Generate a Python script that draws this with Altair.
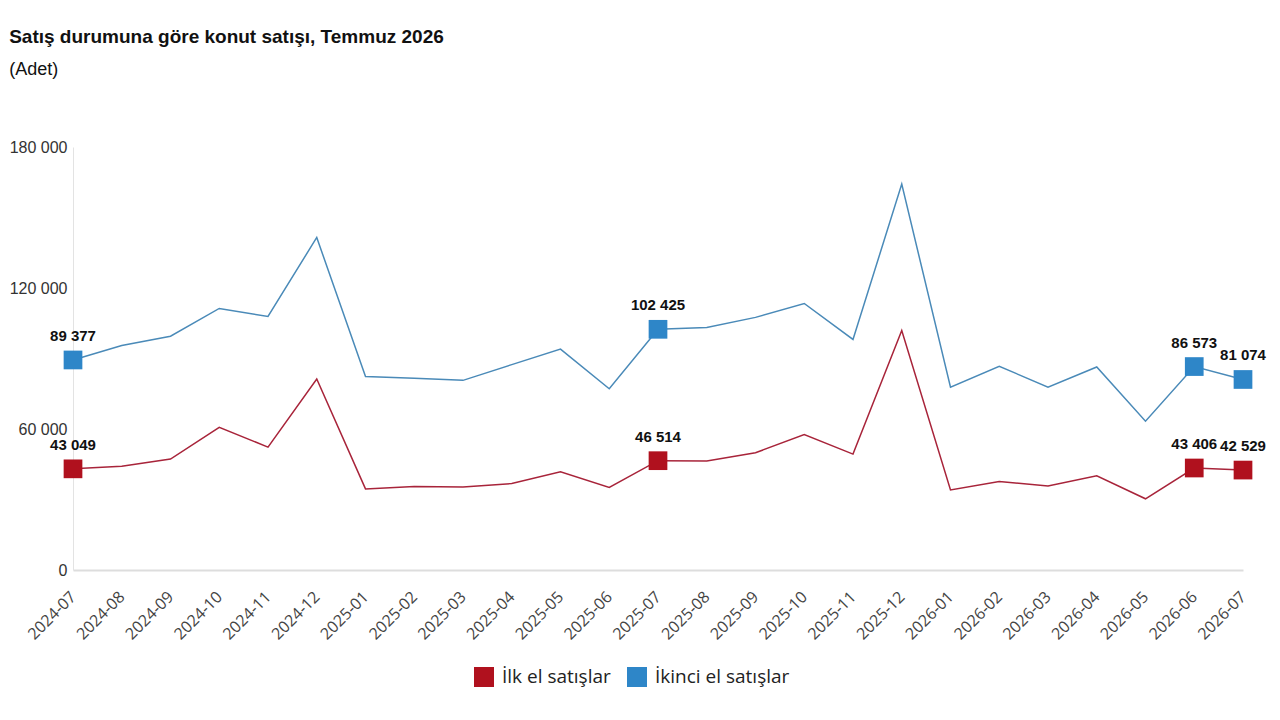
import altair as alt
import pandas as pd

months = ["2024-07", "2024-08", "2024-09", "2024-10", "2024-11", "2024-12",
          "2025-01", "2025-02", "2025-03", "2025-04", "2025-05", "2025-06",
          "2025-07", "2025-08", "2025-09", "2025-10", "2025-11", "2025-12",
          "2026-01", "2026-02", "2026-03", "2026-04", "2026-05", "2026-06",
          "2026-07"]
ilk_el = [43049, 44100, 47200, 60700, 52300, 81300, 34500, 35500, 35300, 36800,
          41800, 35100, 46514, 46400, 49900, 57600, 49300, 101900, 34100, 37700,
          35700, 40100, 30300, 43406, 42529]
ikinci_el = [89377, 95500, 99500, 111300, 107900, 141500, 82300, 81600, 80700, 87400,
             94000, 77100, 102425, 103200, 107500, 113400, 98100, 164200, 77800, 86700,
             77800, 86400, 63300, 86573, 81074]
series_names = ["İlk el satışlar", "İkinci el satışlar"]
labeled_months = ["2024-07", "2025-07", "2026-06", "2026-07"]
y_ticks = [0, 60000, 120000, 180000]

rows = []
for name, vals in zip(series_names, [ilk_el, ikinci_el]):
    for m, v in zip(months, vals):
        rows.append({"month": m, "series": name, "value": v,
                     "label": f"{v:,}".replace(",", " ")})
df = pd.DataFrame(rows)
df_lab = df[df["month"].isin(labeled_months)]

marker_colors = ["#b0111e", "#2e86c8"]
line_colors = ["#a8243a", "#4a8ab8"]

x_enc = alt.X("month:N", sort=months, scale=alt.Scale(type="point", padding=0),
              axis=alt.Axis(title=None, labelAngle=-45, labelFont="Open Sans", labelFontSize=16,
                            labelColor="#444444", labelPadding=24, ticks=False,
                            domainColor="#dddddd", domainWidth=2, grid=False,
                            labelAlign="right", labelBaseline="middle"))
y_enc = alt.Y("value:Q", scale=alt.Scale(domain=[0, 180000], nice=False),
              axis=alt.Axis(title=None, values=y_ticks, grid=False, ticks=False,
                            domainColor="#e3e3e3", domainWidth=1,
                            labelFont="Liberation Sans", labelFontSize=16,
                            labelColor="#333333", labelPadding=6,
                            labelExpr="replace(format(datum.value, ','), ',', ' ')"))

base = alt.Chart(df)

lines = base.mark_line(strokeWidth=1.5).encode(
    x=x_enc, y=y_enc,
    stroke=alt.Stroke("series:N", scale=alt.Scale(domain=series_names, range=line_colors),
                      legend=None),
    detail="series:N",
)

points = alt.Chart(df_lab).mark_point(shape="square", filled=True, size=350,
                                      opacity=1, strokeWidth=0).encode(
    x=x_enc, y=y_enc,
    fill=alt.Fill("series:N", scale=alt.Scale(domain=series_names, range=marker_colors),
                  sort=series_names,
                  legend=alt.Legend(title=None, orient="none", direction="horizontal",
                                    legendX=401, legendY=520, symbolType="square",
                                    symbolSize=400, symbolStrokeWidth=0,
                                    labelFont="Open Sans", labelFontSize=19,
                                    labelColor="#222222", labelOffset=8,
                                    columnPadding=16)),
)

texts = alt.Chart(df_lab).mark_text(dy=-24, font="Liberation Sans", fontSize=15,
                                    fontWeight="bold", color="#111111",
                                    baseline="middle").encode(
    x=x_enc, y=y_enc, text="label:N")

chart = alt.layer(lines, points, texts).resolve_scale(stroke="independent", fill="independent").properties(
    width=1170, height=423,
    title=alt.TitleParams(text="Satış durumuna göre konut satışı, Temmuz 2026",
                          subtitle="(Adet)", anchor="start", offset=60,
                          font="Liberation Sans", fontSize=19, fontWeight="bold",
                          color="#111111", subtitleFont="Liberation Sans",
                          subtitleFontSize=18, subtitleColor="#111111",
                          subtitlePadding=14),
    autosize=alt.AutoSizeParams(type="none"),
    padding={"left": 65, "top": 139, "right": 29, "bottom": 120},
).configure_view(stroke=None)

chart.save("out.html", embed_options={"renderer": "svg", "actions": False})
